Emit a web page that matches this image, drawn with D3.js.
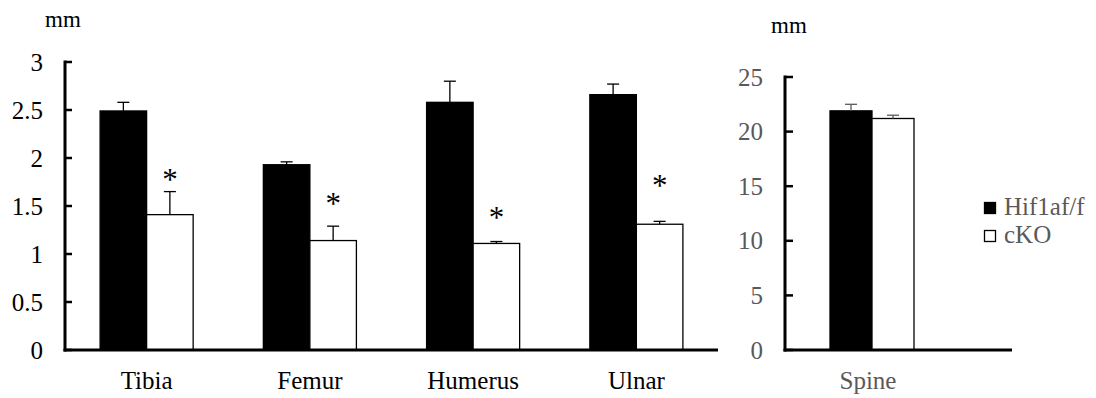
<!DOCTYPE html>
<html>
<head>
<meta charset="utf-8">
<script src="https://cdn.jsdelivr.net/npm/d3@7"></script>
<style>
  body { margin: 0; background: #fff; }
  svg text { font-family: "Liberation Serif", "Times New Roman", Times, serif; }
</style>
</head>
<body>
<svg id="chart" width="1096" height="398"></svg>
<script>
// Left panel: long bones
const bones = ['Tibia', 'Femur', 'Humerus', 'Ulnar'];
const ctrlMean = [2.49, 1.93, 2.58, 2.66];
const ctrlErr = [0.09, 0.03, 0.22, 0.11];
const koMean = [1.41, 1.14, 1.11, 1.31];
const koErr = [0.24, 0.15, 0.02, 0.03];
const starAt = [1.81, 1.56, 1.42, 1.75];
const leftTicks = [0, 0.5, 1, 1.5, 2, 2.5, 3];

// Right panel: spine
const spine = ['Spine'];
const spineCtrl = [21.9];
const spineCtrlErr = [0.6];
const spineKo = [21.2];
const spineKoErr = [0.3];
const rightTicks = [0, 5, 10, 15, 20, 25];

const seriesNames = ['Hif1af/f', 'cKO'];
const gray = '#595959';
const serif = '"Liberation Serif", "Times New Roman", serif';

const svg = d3.select('#chart');

// ---------- left panel ----------
let yL = d3.scaleLinear().domain([0, 3]).range([350, 62]);
let xL = d3.scaleBand().domain(bones).range([65, 718]);
let bwL = xL.bandwidth() * 0.285;

let gL = svg.append('g');

function drawBars(g, x, y, cats, mean, err, bw, isKo, errColor) {
    let off = isKo ? 0 : -bw;
    g.selectAll(null)
        .data(cats)
        .join('rect')
        .attr('x', d => x(d) + x.bandwidth() / 2 + off)
        .attr('y', (d, i) => y(mean[i]))
        .attr('width', bw)
        .attr('height', (d, i) => y(0) - y(mean[i]))
        .attr('fill', isKo ? '#fff' : '#000')
        .attr('stroke', '#000')
        .attr('stroke-width', 1.3);

    // upward error bars only
    let cx = d => x(d) + x.bandwidth() / 2 + off + bw / 2;
    g.selectAll(null)
        .data(cats)
        .join('line')
        .attr('x1', cx).attr('x2', cx)
        .attr('y1', (d, i) => y(mean[i]))
        .attr('y2', (d, i) => y(mean[i] + err[i]))
        .attr('stroke', errColor)
        .attr('stroke-width', 1.3);
    g.selectAll(null)
        .data(cats)
        .join('line')
        .attr('x1', d => cx(d) - 6).attr('x2', d => cx(d) + 6)
        .attr('y1', (d, i) => y(mean[i] + err[i]))
        .attr('y2', (d, i) => y(mean[i] + err[i]))
        .attr('stroke', errColor)
        .attr('stroke-width', 1.3);
}

drawBars(gL, xL, yL, bones, ctrlMean, ctrlErr, bwL, false, '#000');
drawBars(gL, xL, yL, bones, koMean, koErr, bwL, true, '#000');

// significance stars above cKO bars
gL.selectAll(null)
    .data(bones)
    .join('text')
    .attr('x', d => xL(d) + xL.bandwidth() / 2 + bwL / 2)
    .attr('y', (d, i) => yL(starAt[i]) + 14)
    .attr('text-anchor', 'middle')
    .attr('font-family', serif)
    .attr('font-size', 31)
    .text('*');

// y axis with inward ticks
gL.append('line')
    .attr('x1', 65).attr('x2', 65)
    .attr('y1', yL(3) - 1.5).attr('y2', yL(0) + 1.5)
    .attr('stroke', '#000').attr('stroke-width', 3);
gL.selectAll(null)
    .data(leftTicks)
    .join('line')
    .attr('x1', 65).attr('x2', 72)
    .attr('y1', d => yL(d)).attr('y2', d => yL(d))
    .attr('stroke', '#000').attr('stroke-width', 2.5);
gL.selectAll(null)
    .data(leftTicks)
    .join('text')
    .attr('x', 43)
    .attr('y', d => yL(d))
    .attr('dy', '0.34em')
    .attr('text-anchor', 'end')
    .attr('font-family', serif)
    .attr('font-size', 25)
    .text(d => d);
gL.append('line')
    .attr('x1', 63.5).attr('x2', 718)
    .attr('y1', yL(0)).attr('y2', yL(0))
    .attr('stroke', '#000').attr('stroke-width', 3);
gL.selectAll(null)
    .data(bones)
    .join('text')
    .attr('x', d => xL(d) + xL.bandwidth() / 2)
    .attr('y', 389)
    .attr('text-anchor', 'middle')
    .attr('font-family', serif)
    .attr('font-size', 25)
    .text(d => d);
gL.append('text')
    .attr('x', 45).attr('y', 27)
    .attr('font-family', serif)
    .attr('font-size', 23)
    .text('mm');

// ---------- right panel ----------
let yR = d3.scaleLinear().domain([0, 25]).range([350, 77]);
let xR = d3.scaleBand().domain(spine).range([785, 959]);
let bwR = 42;

let gR = svg.append('g');
drawBars(gR, xR, yR, spine, spineCtrl, spineCtrlErr, bwR, false, gray);
drawBars(gR, xR, yR, spine, spineKo, spineKoErr, bwR, true, gray);

gR.append('line')
    .attr('x1', 785).attr('x2', 785)
    .attr('y1', yR(25) - 1.5).attr('y2', yR(0) + 1.5)
    .attr('stroke', '#000').attr('stroke-width', 3);
gR.selectAll(null)
    .data(rightTicks)
    .join('line')
    .attr('x1', 785).attr('x2', 793)
    .attr('y1', d => yR(d)).attr('y2', d => yR(d))
    .attr('stroke', '#000').attr('stroke-width', 2.5);
gR.selectAll(null)
    .data(rightTicks)
    .join('text')
    .attr('x', 763)
    .attr('y', d => yR(d))
    .attr('dy', '0.34em')
    .attr('text-anchor', 'end')
    .attr('font-family', serif)
    .attr('font-size', 25)
    .attr('fill', gray)
    .text(d => d);
gR.append('line')
    .attr('x1', 783.5).attr('x2', 1012)
    .attr('y1', yR(0)).attr('y2', yR(0))
    .attr('stroke', '#000').attr('stroke-width', 3);
gR.selectAll(null)
    .data(spine)
    .join('text')
    .attr('x', d => xR(d) + xR.bandwidth() / 2 - 4)
    .attr('y', 389)
    .attr('text-anchor', 'middle')
    .attr('font-family', serif)
    .attr('font-size', 25)
    .attr('fill', gray)
    .text(d => d);
gR.append('text')
    .attr('x', 771).attr('y', 33)
    .attr('font-family', serif)
    .attr('font-size', 23)
    .text('mm');

// legend
let leg = svg.append('g').attr('transform', 'translate(984,202)');
leg.selectAll(null)
    .data(seriesNames)
    .join('rect')
    .attr('x', 0.5)
    .attr('y', (d, i) => i * 28 + 0.5)
    .attr('width', 11).attr('height', 11)
    .attr('fill', (d, i) => i === 0 ? '#000' : '#fff')
    .attr('stroke', '#000')
    .attr('stroke-width', 1.3);
leg.selectAll(null)
    .data(seriesNames)
    .join('text')
    .attr('x', 20)
    .attr('y', (d, i) => i * 28 + 13)
    .attr('font-family', serif)
    .attr('font-size', 25)
    .attr('fill', gray)
    .text(d => d);
</script>
</body>
</html>
